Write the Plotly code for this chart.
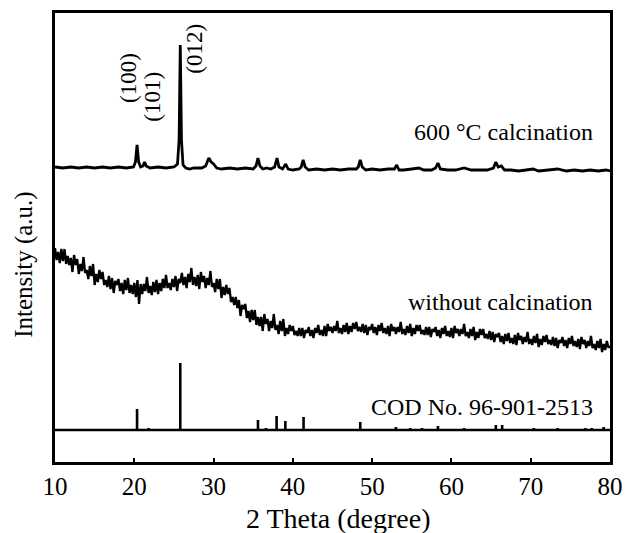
import numpy as np
import plotly.graph_objects as go

# ---------------- data ----------------
# 600 C calcined sample (intensity above its own baseline)
top_theta = [10.0, 11.0, 12.0, 13.0, 14.0, 15.0, 16.0, 17.0, 18.0, 19.0, 19.9, 20.15, 20.35, 20.55, 20.8,
             21.1, 21.3, 21.5, 22.0, 23.0, 24.0, 25.0, 25.45, 25.65, 25.8, 25.95, 26.15, 26.5, 27.0, 27.5,
             28.5, 29.0, 29.4, 29.7, 30.0, 30.4, 31.0, 32.0, 33.0, 34.0, 35.0, 35.35, 35.6, 35.85, 36.2,
             36.7, 37.2, 37.7, 38.0, 38.25, 38.7, 39.1, 39.4, 40.0, 40.8, 41.05, 41.3, 41.55, 42.0, 43.0,
             44.0, 45.0, 46.0, 47.0, 48.0, 48.25, 48.5, 48.75, 49.2, 50.0, 51.0, 52.0, 52.8, 53.1, 53.4,
             54.0, 55.0, 55.9, 56.5, 57.5, 58.0, 58.3, 58.6, 59.5, 60.5, 61.6, 62.5, 63.5, 64.5, 65.3,
             65.6, 65.9, 66.3, 66.7, 67.5, 68.5, 69.5, 70.3, 71.0, 72.5, 73.4, 74.5, 75.5, 76.5, 77.5,
             78.5, 79.5, 80.0]
top_int = [4, 3, 4, 3, 4, 3, 4, 3, 4, 3, 4, 9, 26, 9, 4,
           5, 9, 5, 3, 4, 3, 4, 7, 31, 126, 31, 6, 3, 2, 3,
           3, 5, 13, 9, 7, 3, 2, 3, 2, 3, 2, 5, 13, 5, 2,
           3, 2, 4, 13, 4, 2, 7, 2, 1, 2, 4, 11, 4, 1, 2,
           1, 2, 1, 2, 2, 4, 11, 4, 1, 2, 1, 2, 2, 6, 1,
           1, 2, 3, 1, 1, 3, 8, 2, 1, 1, 3, 1, 1, 1, 3,
           9, 4, 5, 1, 1, 0, 1, 2, 0, 1, 2, 0, 1, 0, 1,
           0, 1, 0]

# uncalcined sample, measured every 0.2 degree from 10 to 80 (one row per degree)
mid_start, mid_step = 10.0, 0.2
mid_int = [
    214, 202, 210, 199, 213,   201, 213, 198, 206, 197,   204, 190, 207, 197, 203,
    188, 198, 191, 205, 189,   192, 183, 196, 186, 198,   177, 188, 180, 192, 183,
    190, 177, 182, 175, 186,   173, 184, 169, 181, 177,   183, 171, 179, 168, 182,
    172, 184, 169, 177, 168,   179, 165, 182, 158, 178,   168, 178, 171, 185, 169,
    176, 167, 180, 170, 182,   168, 179, 171, 183, 174,   187, 174, 179, 172, 183,
    175, 186, 171, 183, 179,   189, 177, 185, 174, 188,   180, 194, 177, 185, 176,
    187, 173, 190, 180, 186,   174, 184, 177, 191, 175,   179, 170, 183, 173, 183,
    164, 175, 167, 177, 168,   174, 160, 165, 157, 165,   154, 162, 146, 157, 153,
    158, 144, 151, 140, 152,   142, 152, 137, 145, 136,   145, 131, 148, 138, 143,
    131, 141, 134, 148, 132,   137, 128, 141, 131, 143,   126, 134, 128, 137, 131,
    136, 127, 131, 126, 134,   126, 134, 124, 132, 129,   135, 126, 132, 124, 134,
    129, 137, 127, 132, 126,   136, 126, 138, 131, 135,   129, 136, 131, 141, 129,
    134, 128, 137, 130, 139,   128, 136, 130, 139, 133,   140, 131, 135, 130, 138,
    129, 137, 127, 135, 132,   138, 129, 135, 127, 137,   131, 139, 129, 134, 128,
    136, 126, 138, 131, 135,   128, 135, 130, 140, 128,   133, 127, 136, 129, 138,
    126, 134, 128, 137, 131,   137, 128, 132, 127, 135,   127, 135, 125, 133, 130,
    135, 126, 132, 124, 134,   128, 136, 126, 131, 125,   134, 124, 136, 129, 133,
    126, 133, 128, 138, 126,   130, 124, 133, 126, 135,   122, 130, 124, 133, 127,
    133, 124, 128, 123, 131,   122, 130, 120, 128, 125,   129, 120, 126, 118, 128,
    121, 129, 119, 124, 118,   127, 117, 129, 122, 126,   118, 125, 120, 130, 118,
    123, 117, 126, 119, 128,   115, 123, 117, 126, 120,   127, 118, 122, 117, 125,
    116, 124, 114, 122, 119,   125, 116, 122, 114, 124,   118, 126, 116, 121, 115,
    123, 113, 125, 118, 122,   114, 121, 116, 126, 114,   118, 112, 121, 114, 123,
    110, 118, 112, 121, 115,
    115]

# COD No. 96-901-2513 reference pattern
cod_theta = [20.35, 21.8, 23.6, 25.8, 35.6, 36.6, 37.95, 39.05, 41.35, 43.9, 45.0, 46.8, 48.5,
             53.0, 54.8, 56.3, 58.3, 61.6, 65.6, 66.4, 70.4, 73.4, 76.9, 77.7, 79.2]
cod_int = [21, 2, 1, 67, 10, 2, 14, 9, 13, 1, 1, 1, 8,
           3, 2, 2, 4, 2, 5, 5, 2, 2, 2, 2, 3]

hkl_labels = ["(100)", "(101)", "(012)"]
hkl_theta = [19.2, 22.2, 27.5]
hkl_y = [384, 365, 413]

curve_labels = ["600 \u00b0C calcination", "without calcination", "COD No. 96-901-2513"]
curve_label_y = [330, 160, 55]

x_ticks = [10, 20, 30, 40, 50, 60, 70, 80]

# ---------------- layout constants ----------------
TOP_OFFSET = 291
COD_OFFSET = 32
Y_MAX = 449
FONT = "Liberation Serif, Times New Roman, serif"

mid_theta = mid_start + mid_step * np.arange(len(mid_int))

fig = go.Figure()

fig.add_trace(go.Scatter(x=top_theta, y=[v + TOP_OFFSET for v in top_int], mode="lines",
                         line=dict(color="black", width=2.8), showlegend=False))
fig.add_trace(go.Scatter(x=mid_theta, y=mid_int, mode="lines",
                         line=dict(color="black", width=2.3), showlegend=False))

# sticks
sx, sy = [], []
for t, h in zip(cod_theta, cod_int):
    sx += [t, t, None]
    sy += [COD_OFFSET, COD_OFFSET + h, None]
fig.add_trace(go.Scatter(x=sx, y=sy, mode="lines", line=dict(color="black", width=2.6),
                         showlegend=False))
fig.add_trace(go.Scatter(x=[x_ticks[0], x_ticks[-1]], y=[COD_OFFSET, COD_OFFSET], mode="lines",
                         line=dict(color="black", width=2.6), showlegend=False))

for lab, x, y in zip(hkl_labels, hkl_theta, hkl_y):
    fig.add_annotation(x=x, y=y, text=lab, showarrow=False, textangle=-90,
                       font=dict(family=FONT, size=23, color="black"),
                       xanchor="center", yanchor="middle")

for lab, y in zip(curve_labels, curve_label_y):
    fig.add_annotation(x=78.1, y=y, text=lab, showarrow=False, xanchor="right", yanchor="middle",
                       font=dict(family=FONT, size=24, color="black"))

fig.add_annotation(xref="paper", yref="paper", x=0.51, y=-0.125, text="2 Theta (degree)",
                   showarrow=False, xanchor="center", yanchor="middle",
                   font=dict(family=FONT, size=28, color="black"))
fig.add_annotation(xref="paper", yref="paper", x=-0.056, y=0.439, text="Intensity (a.u.)",
                   showarrow=False, textangle=-90, xanchor="center", yanchor="middle",
                   font=dict(family=FONT, size=25, color="black"))

fig.update_layout(
    template="none",
    width=627, height=533, autosize=False,
    margin=dict(l=55, r=17, t=13, b=71),
    paper_bgcolor="white", plot_bgcolor="white",
    xaxis=dict(range=[10, 80], tickvals=x_ticks, ticks="inside", ticklen=4, tickwidth=2,
               tickcolor="black", showline=True, linecolor="black", linewidth=2.5, mirror=True,
               showgrid=False, zeroline=False, automargin=False,
               tickfont=dict(family=FONT, size=25, color="black")),
    yaxis=dict(range=[0, Y_MAX], showticklabels=False, ticks="", showline=True,
               linecolor="black", linewidth=2.5, mirror=True, showgrid=False, zeroline=False,
               automargin=False),
)

fig.write_html("out.html")
